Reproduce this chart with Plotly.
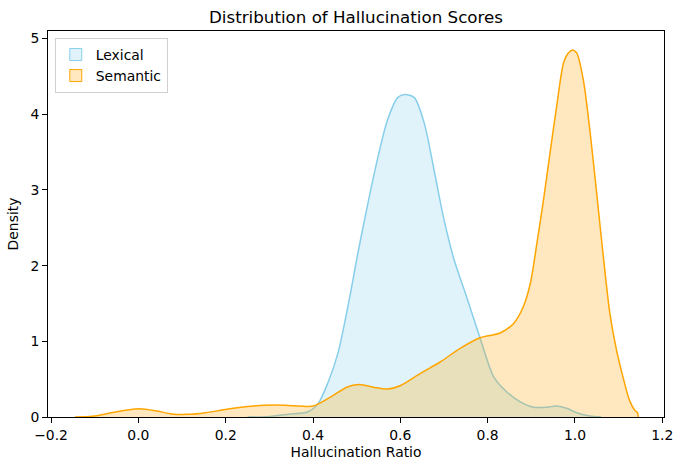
import plotly.graph_objects as go

# ---- data (KDE curves) ----
lex_x = [0.25, 0.30, 0.343, 0.389, 0.412, 0.434, 0.457, 0.480, 0.503, 0.526, 0.549, 0.571,
         0.594, 0.610, 0.632, 0.655, 0.677, 0.700, 0.723, 0.750, 0.784, 0.814, 0.844,
         0.875, 0.905, 0.936, 0.958, 0.981, 1.004, 1.034, 1.06]
lex_y = [0.0, 0.008, 0.036, 0.07, 0.18, 0.45, 0.84, 1.46, 2.17, 2.83, 3.44, 3.93,
         4.22, 4.26, 4.22, 3.88, 3.27, 2.61, 2.08, 1.62, 1.02, 0.53, 0.33,
         0.20, 0.13, 0.13, 0.145, 0.115, 0.057, 0.013, 0.0]

sem_x = [-0.145, -0.105, -0.067, -0.029, 0.002, 0.040, 0.077, 0.115, 0.154, 0.199, 0.245,
         0.290, 0.336, 0.370, 0.400, 0.442, 0.480, 0.507, 0.541, 0.571, 0.602, 0.647,
         0.692, 0.738, 0.784, 0.829, 0.860, 0.882, 0.898, 0.913, 0.928, 0.943, 0.958,
         0.974, 0.985, 0.995, 1.004, 1.019, 1.034, 1.049, 1.065, 1.080, 1.095, 1.110,
         1.125, 1.137, 1.143, 1.145]
sem_y = [0.0, 0.01, 0.05, 0.09, 0.11, 0.083, 0.04, 0.035, 0.057, 0.10, 0.136,
         0.155, 0.155, 0.145, 0.145, 0.27, 0.40, 0.43, 0.39, 0.37, 0.42, 0.58,
         0.73, 0.91, 1.05, 1.11, 1.24, 1.46, 1.77, 2.30, 2.87, 3.49, 4.10,
         4.68, 4.81, 4.85, 4.81, 4.46, 3.80, 3.00, 2.12, 1.37, 0.89, 0.53,
         0.22, 0.09, 0.06, 0.0]

x_ticks = [-0.2, 0.0, 0.2, 0.4, 0.6, 0.8, 1.0, 1.2]
x_tick_labels = ["\u22120.2", "0.0", "0.2", "0.4", "0.6", "0.8", "1.0", "1.2"]
y_ticks = [0, 1, 2, 3, 4, 5]

LEX_LINE = "#87CEEB"
LEX_FILL = "rgba(135,206,235,0.25)"
SEM_LINE = "#FFA500"
SEM_FILL = "rgba(255,165,0,0.25)"

FONT = "DejaVu Sans"

fig = go.Figure()
fig.add_trace(go.Scatter(x=lex_x, y=lex_y, mode="lines", fill="tozeroy",
                         line=dict(color=LEX_LINE, width=1.5, shape="spline", smoothing=0.8),
                         fillcolor=LEX_FILL, showlegend=False, name="Lexical"))
fig.add_trace(go.Scatter(x=sem_x, y=sem_y, mode="lines", fill="tozeroy",
                         line=dict(color=SEM_LINE, width=1.5, shape="spline", smoothing=0.8),
                         fillcolor=SEM_FILL, showlegend=False, name="Semantic"))
# legend proxies
fig.add_trace(go.Bar(x=[None], y=[None], name="Lexical",
                     marker=dict(color=LEX_FILL, line=dict(color=LEX_LINE, width=1))))
fig.add_trace(go.Bar(x=[None], y=[None], name="Semantic",
                     marker=dict(color=SEM_FILL, line=dict(color=SEM_LINE, width=1))))

axis_common = dict(showline=True, linecolor="black", linewidth=1, mirror=True,
                   ticks="outside", ticklen=5, tickwidth=1, tickcolor="black",
                   showgrid=False, zeroline=False,
                   tickfont=dict(family=FONT, size=13.9, color="black"))

fig.update_layout(
    width=685, height=470,
    margin=dict(l=48, r=17, t=31, b=53),
    paper_bgcolor="white", plot_bgcolor="white",
    title=dict(text="Distribution of Hallucination Scores", x=0.5, xref="paper",
               y=1 - 17 / 470, yanchor="middle",
               font=dict(family=FONT, size=16.7, color="black")),
    xaxis=dict(range=[-0.207, 1.204], tickvals=x_ticks, ticktext=x_tick_labels,
               title=dict(text="Hallucination Ratio", standoff=5,
                          font=dict(family=FONT, size=13.9, color="black")),
               **axis_common),
    yaxis=dict(range=[0, 5.1], tickvals=y_ticks,
               title=dict(text="Density", standoff=8,
                          font=dict(family=FONT, size=13.9, color="black")),
               **axis_common),
    legend=dict(x=0.011, y=0.982, xanchor="left", yanchor="top",
                bgcolor="rgba(255,255,255,0.8)", bordercolor="#D0D0D0", borderwidth=1,
                font=dict(family=FONT, size=13.9, color="black"),
                itemwidth=30, tracegroupgap=2),
    showlegend=True,
)

fig.write_html("out.html")
